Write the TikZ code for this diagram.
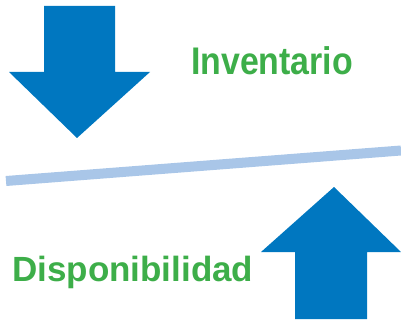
\documentclass[tikz,border=0pt]{standalone}
\usepackage{fontspec}
\setmainfont{Liberation Sans}
\definecolor{arrowblue}{HTML}{0077C0}
\definecolor{lineblue}{HTML}{A9C6E8}
\definecolor{labelgreen}{HTML}{3DAE49}
\tikzset{
  bigarrow/.style={fill=arrowblue, draw=none},
  label text/.style={text=labelgreen, font=\bfseries, inner sep=0pt, anchor=base west}
}
\begin{document}
\begin{tikzpicture}[x=1pt,y=-1pt]
\useasboundingbox (0,0) rectangle (401,323);
% down arrow
\fill[bigarrow] (44,6) -- (115,6) -- (115,72) -- (150,72) -- (77,138) -- (9,72) -- (44,72) -- cycle;
% up arrow
\fill[bigarrow] (295,319) -- (367,319) -- (367,252) -- (401,252) -- (334,187) -- (261,252) -- (295,252) -- cycle;
% balance line
\coordinate (l1) at (6,181);
\coordinate (l2) at (401,150.5);
\draw[lineblue, line width=10pt] (l1) -- (l2);
% labels
\node[label text, xscale=0.88] (inv) at (191,75) {\fontsize{38.5}{40}\selectfont Inventario};
\node[label text] (disp) at (12,281) {\fontsize{35}{38}\selectfont Disponibilidad};
\end{tikzpicture}
\end{document}
